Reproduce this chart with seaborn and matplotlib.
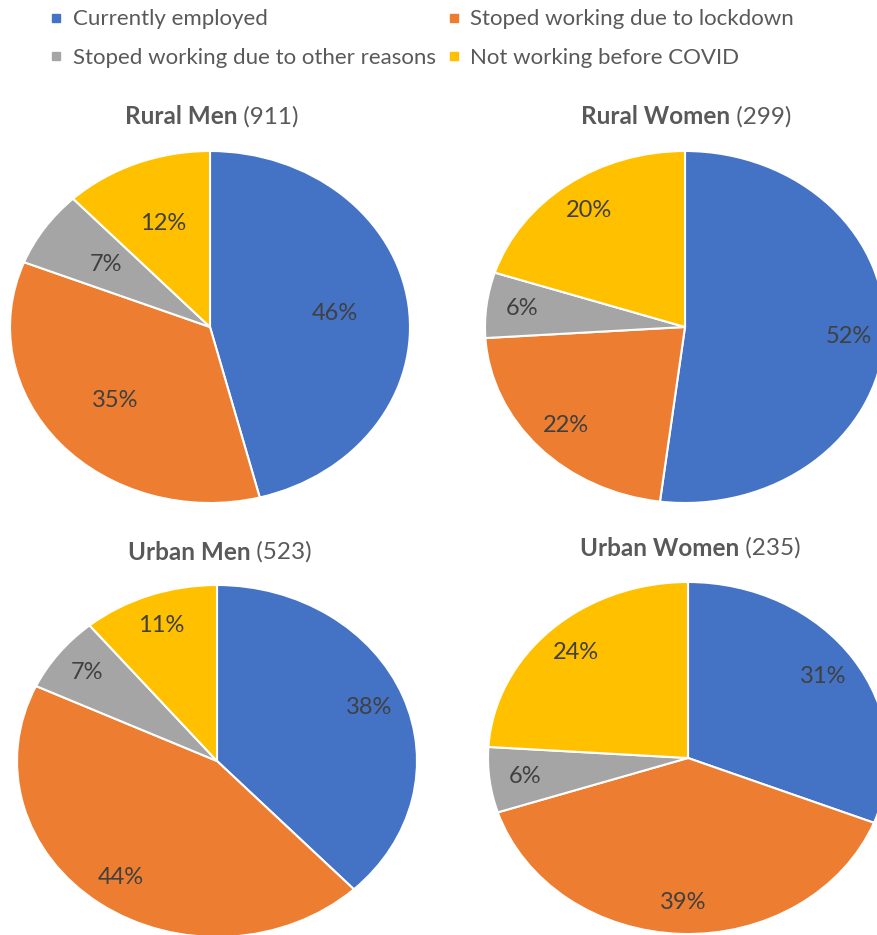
import matplotlib
matplotlib.use("Agg")
import matplotlib.pyplot as plt
import seaborn as sns
from matplotlib.lines import Line2D

sns.set_theme(style="white")
plt.rcParams['font.family'] = ['Lato', 'DejaVu Sans']

categories = ["Currently employed", "Stoped working due to lockdown",
              "Stoped working due to other reasons", "Not working before COVID"]
colors = ["#4472C4", "#ED7D31", "#A5A5A5", "#FFC000"]

groups = ["Rural Men", "Rural Women", "Urban Men", "Urban Women"]
counts = [911, 299, 523, 235]
rural_men = [46, 35, 7, 12]
rural_women = [52, 22, 6, 20]
urban_men = [38, 44, 7, 11]
urban_women = [31, 39, 6, 24]
values = [rural_men, rural_women, urban_men, urban_women]

W, H = 878, 935
fig = plt.figure(figsize=(W / 100, H / 100), dpi=100)

# pie centres / radii in pixels (x from left, y from top)
centres = [(210, 327), (685, 327), (217, 761), (688, 758)]
rx, ry = 200, 176
pctd = [0.63, 0.82, 0.82, 0.82]
title_y = [117, 117, 552, 548]
title_cx = [212, 686, 220, 690]

text_col = "#404040"
title_col = "#595959"

for i, (vals, (cx, cy)) in enumerate(zip(values, centres)):
    ax = fig.add_axes([(cx - rx) / W, (H - cy - ry) / H, 2 * rx / W, 2 * ry / H])
    wedges, texts, autotexts = ax.pie(
        vals, colors=colors, startangle=90, counterclock=False,
        autopct=lambda p: f"{p:.0f}%", pctdistance=pctd[i],
        wedgeprops=dict(edgecolor="white", linewidth=1.5),
        textprops=dict(color=text_col, fontsize=17))
    ax.set_aspect("auto")
    ax.set_xlim(-1, 1)
    ax.set_ylim(-1, 1)
    ax.axis("off")

# titles: bold name + regular count
fig.canvas.draw()
renderer = fig.canvas.get_renderer()
for i in range(4):
    y = 1 - title_y[i] / H
    t1 = fig.text(0, y, groups[i], fontsize=17.5, fontweight="bold",
                  color=title_col, va="center", ha="left")
    t2 = fig.text(0, y, f" ({counts[i]})", fontsize=17.5,
                  color=title_col, va="center", ha="left")
    w1 = t1.get_window_extent(renderer).width
    w2 = t2.get_window_extent(renderer).width
    x0 = title_cx[i] - (w1 + w2) / 2
    t1.set_x(x0 / W)
    t2.set_x((x0 + w1) / W)

handles = [Line2D([0], [0], marker="s", linestyle="none", markersize=6,
                  markerfacecolor=c, markeredgecolor=c) for c in colors]
order = [0, 2, 1, 3]
leg = fig.legend([handles[k] for k in order], [categories[k] for k in order],
                 ncol=2, loc="upper left", bbox_to_anchor=(45 / W, 1 - 5 / H),
                 borderaxespad=0.0, borderpad=0.2,
                 frameon=False, fontsize=16, handlelength=0.6,
                 handletextpad=0.45, columnspacing=0.5, labelspacing=0.82)
for t in leg.get_texts():
    t.set_color(title_col)

fig.savefig("out.png", dpi=100)
